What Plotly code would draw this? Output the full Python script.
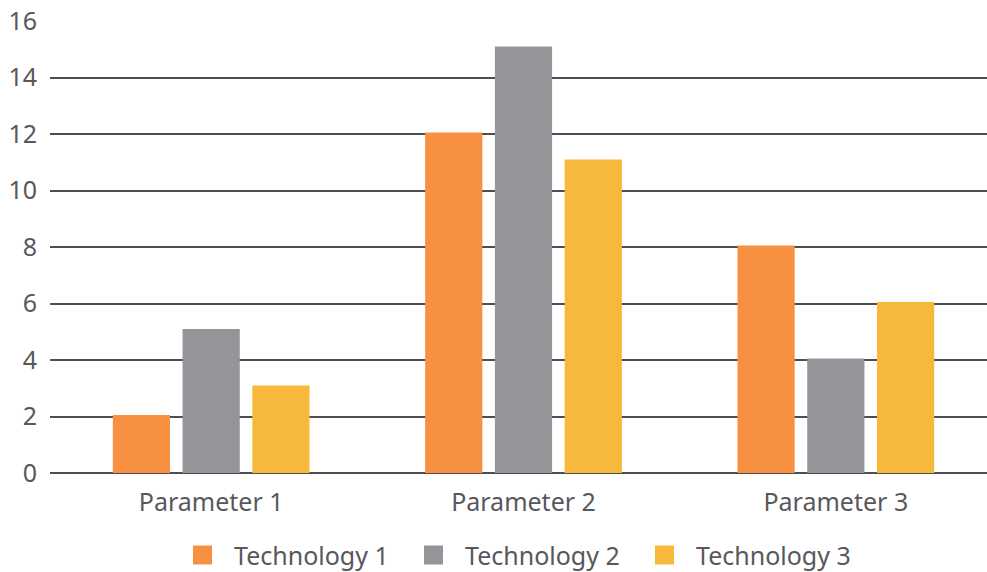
import plotly.graph_objects as go

# Chart data
categories = ["Parameter 1", "Parameter 2", "Parameter 3"]
series_names = ["Technology 1", "Technology 2", "Technology 3"]
tech1 = [2.05, 12.05, 8.05]
tech2 = [5.1, 15.1, 4.05]
tech3 = [3.1, 11.1, 6.05]
y_ticks = [0, 2, 4, 6, 8, 10, 12, 14, 16]

colors = ["#F79041", "#939598", "#F7B93B"]
FONT = "Noto Sans"
TEXT = "#58585c"
GRID = "#4d4d52"

W, H = 987, 572
ML, MR, MT, MB = 50, 0, 21, 99
plot_w = W - ML - MR
plot_h = H - MT - MB

fig = go.Figure()
for name, vals, col in zip(series_names, [tech1, tech2, tech3], colors):
    fig.add_trace(go.Bar(name=name, x=categories, y=vals, showlegend=False,
                         marker=dict(color=col, line=dict(width=0))))

# Legend row below the plot: coloured square + label per series
def px_to_paper_x(px):
    return (px - ML) / plot_w

def px_to_paper_y(py):
    return (H - MB - py) / plot_h

legend_start = 193   # left edge of the first square (px)
legend_pitch = 231   # distance between consecutive items (px)
square = 19
legend_cy = 555
shapes, annotations = [], []
for i, (name, col) in enumerate(zip(series_names, colors)):
    x0 = legend_start + i * legend_pitch
    shapes.append(dict(type="rect", xref="paper", yref="paper",
                       x0=px_to_paper_x(x0), x1=px_to_paper_x(x0 + square),
                       y0=px_to_paper_y(legend_cy + square / 2),
                       y1=px_to_paper_y(legend_cy - square / 2),
                       fillcolor=col, line=dict(width=0)))
    annotations.append(dict(text=name, xref="paper", yref="paper",
                            x=px_to_paper_x(x0 + square + 20), xanchor="left",
                            y=px_to_paper_y(legend_cy), yanchor="middle",
                            showarrow=False,
                            font=dict(family=FONT, size=25, color=TEXT)))

fig.update_layout(
    width=W, height=H,
    margin=dict(l=ML, r=MR, t=MT, b=MB),
    paper_bgcolor="white", plot_bgcolor="white",
    barmode="group", bargap=0.33, bargroupgap=0.18,
    font=dict(family=FONT, color=TEXT),
    showlegend=False,
    shapes=shapes, annotations=annotations,
    xaxis=dict(range=[-0.516, 2.484], showgrid=False, showline=False, zeroline=False,
               ticks="", tickfont=dict(size=25, color=TEXT), ticklabelstandoff=12),
    yaxis=dict(range=[0, 16], tickvals=y_ticks, showgrid=True, gridcolor=GRID,
               gridwidth=2, zeroline=True, zerolinecolor=GRID, zerolinewidth=2,
               showline=False, ticks="", tickfont=dict(size=25, color=TEXT),
               ticklabelstandoff=12),
)

fig.write_html("out.html")
